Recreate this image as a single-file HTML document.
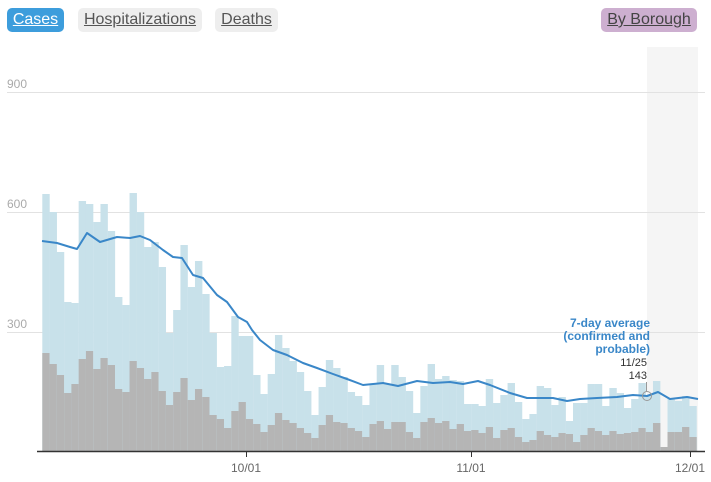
<!DOCTYPE html>
<html><head><meta charset="utf-8"><style>
body{margin:0;width:711px;height:482px;background:#fff;font-family:"Liberation Sans",Arial,sans-serif;overflow:hidden;position:relative}
.b{position:absolute;top:8px;height:24px;line-height:24px;border-radius:5px;font-size:16px;text-decoration:underline;text-align:center;color:#555}
</style></head><body>
<div class="b" style="left:7px;width:57px;background:#3d9ddc;color:#fff">Cases</div>
<div class="b" style="left:78px;width:124px;background:#eee">Hospitalizations</div>
<div class="b" style="left:215px;width:63px;background:#eee">Deaths</div>
<div class="b" style="left:601px;width:96px;background:#cdafd0;color:#444">By Borough</div>
<svg id="s" width="711" height="482" style="position:absolute;left:0;top:0" font-family="Liberation Sans, Arial, sans-serif">
<rect x="647" y="47" width="51" height="404" fill="#f5f5f5"/>
<g stroke="#e2e2e2" stroke-width="1">
<line x1="7" x2="705" y1="92.5" y2="92.5"/><line x1="7" x2="705" y1="212.5" y2="212.5"/><line x1="7" x2="705" y1="332.5" y2="332.5"/>
</g>
<g fill="#aaa" font-size="12"><text x="7" y="88">900</text><text x="7" y="208">600</text><text x="7" y="328">300</text></g>
<g id="bars"></g>
<polyline fill="none" stroke="#3a87c8" stroke-width="2" stroke-linejoin="round" points="42,241 57,243 70,247 77,249 87,233 100,242 117,237 130,238 140,236 150,240 163,250 173,257 182,258 193,275 203,278 217,295 227,302 238,317 247,322 252,330 260,340 273,350 287,355 303,363 317,368 333,374 347,379 363,385 383,383 398,386 417,381 433,383 450,382 463,384 478,381 490,385 510,393 527,398 553,398 567,401 580,399 597,398 617,397 633,395 647,396 658,392 670,399 687,397 698,399"/>
<line x1="646.5" y1="382" x2="646.5" y2="392" stroke="#999"/>
<circle cx="647" cy="396" r="4.5" fill="none" stroke="#999"/>
<g fill="#3a87c8" font-size="12" font-weight="bold" text-anchor="end">
<text x="650" y="327">7-day average</text><text x="650" y="340">(confirmed and</text><text x="650" y="353">probable)</text></g>
<g fill="#333" font-size="11" text-anchor="end"><text x="647" y="366">11/25</text><text x="647" y="379">143</text></g>
<line x1="37" x2="705" y1="451.5" y2="451.5" stroke="#333" stroke-width="1.5"/>
<g stroke="#333"><line x1="246.5" x2="246.5" y1="451" y2="457"/><line x1="471.5" x2="471.5" y1="451" y2="457"/><line x1="690.5" x2="690.5" y1="451" y2="457"/></g>
<g fill="#666" font-size="12" text-anchor="middle"><text x="246" y="472">10/01</text><text x="471" y="472">11/01</text><text x="690" y="472">12/01</text></g>
</svg>
<script>
var L=[194,212,252,302,303,201,204,222,204,231,297,305,193,212,247,242,267,333,310,245,287,261,294,333,367,366,316,336,357,375,394,374,335,348,361,372,391,415,387,360,368,377,392,396,405,384,365,384,365,377,391,413,386,364,379,376,380,381,404,404,406,379,403,395,383,402,419,414,386,388,405,397,421,403,403,384,384,406,388,393,408,399,383,395,381,447,399,401,396,406];
var G=[353,364,375,393,384,359,351,369,358,365,389,392,361,368,379,372,391,405,392,378,400,389,397,415,419,428,411,402,419,424,432,425,413,420,423,428,433,438,425,415,422,423,428,431,437,424,421,429,422,422,432,438,422,418,423,421,429,424,431,430,433,427,438,430,428,437,442,440,431,435,437,433,434,442,435,428,431,435,431,434,433,432,428,432,423,447,432,432,427,437];
L[28]=336;
var h='';for(var i=0;i<L.length;i++){var x=42.3+i*7.27;
h+='<rect x="'+x.toFixed(2)+'" y="'+L[i]+'" width="7.4" height="'+(451-L[i])+'" fill="#c8e1ea"/>';
h+='<rect x="'+x.toFixed(2)+'" y="'+G[i]+'" width="7.4" height="'+(451-G[i])+'" fill="#b5b5b5"/>';}
document.getElementById('bars').innerHTML=h;
</script>
</body></html>
